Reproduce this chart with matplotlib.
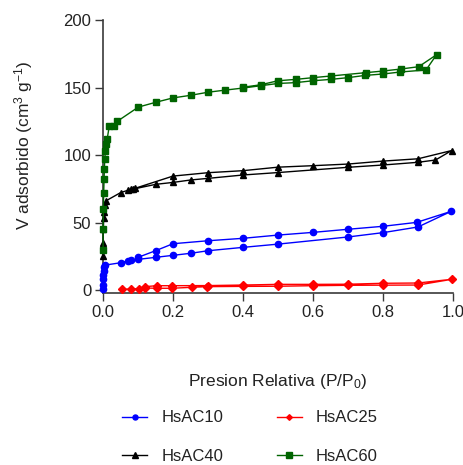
import matplotlib
matplotlib.use("Agg")
import matplotlib.pyplot as plt

plt.rcParams["font.family"] = ["Liberation Sans", "DejaVu Sans"]
plt.rcParams["mathtext.fontset"] = "custom"
plt.rcParams["mathtext.rm"] = "Liberation Sans"
plt.rcParams["mathtext.it"] = "Liberation Sans:italic"
plt.rcParams["mathtext.bf"] = "Liberation Sans:bold"

# Nitrogen isotherms: adsorption branch followed by desorption branch
hsac10_p = [0.0001, 0.0003, 0.0006, 0.001, 0.002, 0.004, 0.007, 0.05, 0.07, 0.08, 0.10, 0.15,
            0.20, 0.25, 0.30, 0.40, 0.50, 0.70, 0.80, 0.90, 0.995,
            0.896, 0.80, 0.70, 0.60, 0.50, 0.40, 0.30, 0.20, 0.15, 0.10]
hsac10_v = [1, 4, 8, 11, 14, 17, 18.5, 20.2, 21.5, 22.2, 22.7, 24.2,
            25.7, 27.2, 29.1, 31.6, 34.0, 39.3, 42.5, 46.7, 58.3,
            50.1, 47.2, 45.0, 42.7, 40.7, 38.3, 36.5, 34.3, 29.1, 24.2]

hsac25_p = [0.053, 0.079, 0.104, 0.12, 0.153, 0.196, 0.253, 0.298, 0.40, 0.50, 0.60, 0.70,
            0.80, 0.90, 0.998,
            0.90, 0.80, 0.70, 0.60, 0.50, 0.40, 0.30, 0.196, 0.153, 0.12]
hsac25_v = [0.6, 0.7, 1.1, 1.5, 1.3, 1.3, 2.0, 2.5, 2.7, 2.8, 3.2, 3.5,
            3.6, 3.7, 8.0,
            5.2, 5.0, 4.3, 4.2, 4.2, 3.7, 3.3, 3.2, 3.2, 2.5]

hsac40_p = [0.0002, 0.0005, 0.001, 0.002, 0.003, 0.005, 0.008, 0.05, 0.07, 0.079, 0.087, 0.151,
            0.20, 0.25, 0.30, 0.40, 0.50, 0.70, 0.80, 0.90, 0.95, 0.996,
            0.90, 0.80, 0.70, 0.60, 0.50, 0.40, 0.30, 0.20, 0.09]
hsac40_v = [25, 35, 45, 53, 58, 63, 66, 72.1, 73.8, 74.6, 74.8, 78.3,
            79.7, 81.5, 82.7, 85.2, 87.0, 90.9, 92.6, 94.6, 96.3, 103.3,
            97.2, 95.5, 93.3, 92.1, 91.0, 88.4, 86.9, 84.4, 75.2]

hsac60_p = [0.0002, 0.0005, 0.001, 0.002, 0.003, 0.004, 0.005, 0.007, 0.009, 0.012,
            0.018, 0.03, 0.041, 0.101, 0.15, 0.20, 0.25, 0.30, 0.35, 0.40, 0.45, 0.50,
            0.55, 0.60, 0.65, 0.70, 0.75, 0.80, 0.85, 0.923, 0.953,
            0.902, 0.851, 0.80, 0.751, 0.65, 0.60, 0.55, 0.50, 0.45, 0.40]
hsac60_v = [30, 45, 60, 72, 82, 90, 97, 103, 108, 112,
            121.5, 121.5, 125.0, 135.5, 139.0, 142.3, 144.2, 146.5, 148.1, 149.6, 151.3, 153.0,
            153.6, 155.0, 156.0, 157.3, 159.0, 160.0, 161.5, 163.0, 174.3,
            165.4, 163.7, 162.2, 161.0, 158.5, 157.3, 156.0, 155.0, 152.0, 150.2]

series = [
    ("HsAC10", hsac10_p, hsac10_v, "#0000FF", "o", 4.5),
    ("HsAC25", hsac25_p, hsac25_v, "#FF0000", "D", 3.6),
    ("HsAC40", hsac40_p, hsac40_v, "#000000", "^", 5.0),
    ("HsAC60", hsac60_p, hsac60_v, "#006400", "s", 4.8),
]

x_ticks = [0.0, 0.2, 0.4, 0.6, 0.8, 1.0]
y_ticks = [0, 50, 100, 150, 200]

fig = plt.figure(figsize=(4.64, 4.65), dpi=100)
ax = fig.add_axes([103 / 464, 1 - 293 / 465, 350 / 464, 273 / 465])

handles = []
for name, p, v, color, marker, ms in series:
    (h,) = ax.plot(p, v, color=color, marker=marker, markersize=ms, lw=1.0,
                   label=name, clip_on=False, zorder=3)
    handles.append(h)

ax.set_xlim(0, 1.0)
ax.set_ylim(-2.2, 200)
ax.set_xticks(x_ticks)
ax.set_xticklabels([f"{t:.1f}" for t in x_ticks])
ax.set_yticks(y_ticks)
ax.set_yticklabels([str(t) for t in y_ticks])

for side in ("top", "right"):
    ax.spines[side].set_visible(False)
for side in ("left", "bottom"):
    ax.spines[side].set_linewidth(1.2)
    ax.spines[side].set_color("#3a3a3a")
ax.spines["left"].set_bounds(-2.2, 200)

ax.tick_params(axis="both", direction="out", length=5.5, width=1.0, color="#3a3a3a",
               labelsize=12, labelcolor="#222222", pad=3)

ax.set_xlabel("Presion Relativa (P/P$_0$)", fontsize=12.5, color="#222222", va="center")
ax.xaxis.set_label_coords(0.5, -0.326)
ax.set_ylabel("V adsorbido (cm$^3$ g$^{-1}$)", fontsize=12.5, color="#222222", va="center")
ax.yaxis.set_label_coords(-0.226, 0.542)

order = [0, 2, 1, 3]
fig.legend([handles[i] for i in order], [series[i][0] for i in order],
           loc="center", bbox_to_anchor=(250 / 464, 1 - 437 / 465), ncol=2,
           frameon=False, fontsize=12, handlelength=1.5, handletextpad=0.85,
           columnspacing=3.2, labelspacing=1.4, borderpad=0, markerscale=0.8,
           labelcolor="#222222")

fig.savefig("out.png", dpi=100)
